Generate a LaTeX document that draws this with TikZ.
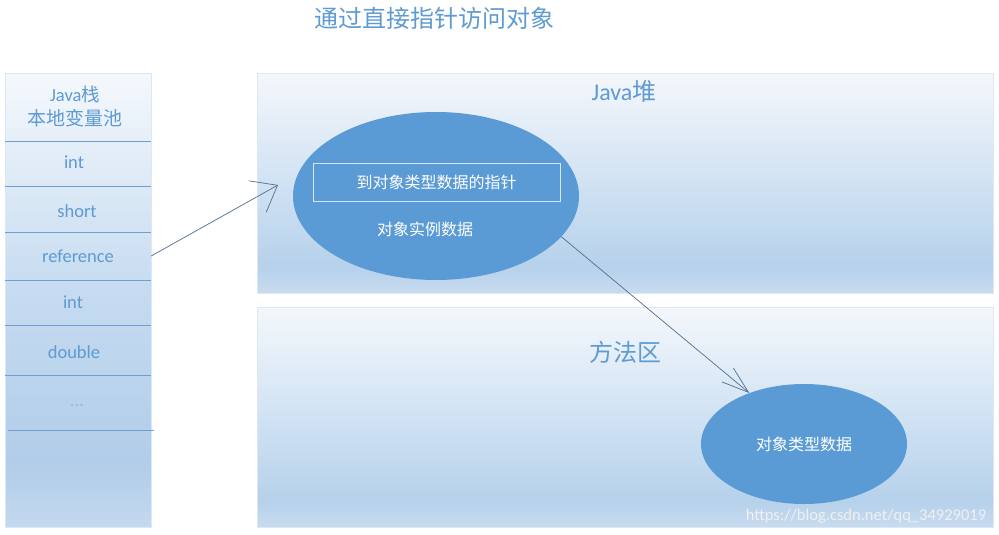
\documentclass[tikz,border=0pt]{standalone}
\usepackage{fontspec}
\setmainfont{Carlito}
\newfontfamily\cjk{Noto Sans CJK SC}
\usetikzlibrary{arrows.meta,shapes.geometric}
\definecolor{ell}{HTML}{5B9BD5}
\definecolor{lbl}{HTML}{5E9AD3}
\definecolor{divl}{HTML}{6E9FD2}
\definecolor{arr}{HTML}{4F6F8F}
\definecolor{edge}{HTML}{DDE8F3}
\definecolor{sZ}{HTML}{C3D9EF}
\definecolor{sA}{HTML}{B2CDE9}
\definecolor{sB}{HTML}{C4DAF0}
\definecolor{sC}{HTML}{F4F8FC}
\definecolor{hZ}{HTML}{C8DCF0}
\definecolor{hA}{HTML}{B6D1EB}
\definecolor{hB}{HTML}{D3E4F4}
\definecolor{hC}{HTML}{F4F7FB}
\pgfdeclareverticalshading{stackshade}{100bp}{color(0bp)=(sZ); color(25bp)=(sZ); color(32bp)=(sA); color(50bp)=(sB); color(75bp)=(sC); color(100bp)=(sC)}
\pgfdeclareverticalshading{heapshade}{100bp}{color(0bp)=(hZ); color(25bp)=(hZ); color(31bp)=(hA); color(52bp)=(hB); color(75bp)=(hC); color(100bp)=(hC)}
\begin{document}
\begin{tikzpicture}[x=1pt,y=-1pt,
  panel/.style={draw=edge, line width=0.8pt, inner sep=0pt, anchor=north west},
  rowtxt/.style={text=lbl, font=\fontsize{18.5}{22}\selectfont, inner sep=0pt},
  bigtxt/.style={text=lbl, font=\fontsize{24}{27}\selectfont, inner sep=0pt},
  whitetxt/.style={text=white, font=\cjk\fontsize{16}{19}\selectfont, inner sep=0pt},
  blob/.style={ellipse, fill=ell, inner sep=0pt},
  divider/.style={draw=divl, line width=0.9pt},
  conn/.style={draw=arr, line width=0.7pt}]
\useasboundingbox (0,0) rectangle (999,535);
\fill[white] (0,0) rectangle (999,535);
% title
\node[bigtxt] (title) at (434,18) {\cjk 通过直接指针访问对象};
% stack
\node[panel, shading=stackshade, minimum width=146pt, minimum height=454pt] (stack) at (5,73) {};
\node[rowtxt, align=center, font=\fontsize{18.5}{24}\selectfont] (head) at (75,107) {Java{\cjk 栈}\\{\cjk\fontsize{19}{24}\selectfont 本地变量池}};
\node[rowtxt] (r1) at (74,162) {int};
\node[rowtxt] (r2) at (77,211) {short};
\node[rowtxt, minimum width=146pt, minimum height=48pt] (ref) at (78,256) {reference};
\node[rowtxt] (r4) at (73,302) {int};
\node[rowtxt] (r5) at (74,352) {double};
\node[rowtxt, text=lbl!70] (r6) at (77,406) {...};
\draw[divider] (5,141) -- (151,141);
\draw[divider] (5,186) -- (151,186);
\draw[divider] (5,232) -- (151,232);
\draw[divider] (5,280) -- (151,280);
\draw[divider] (5,325) -- (151,325);
\draw[divider] (5,375) -- (151,375);
\draw[divider] (8,430) -- (154,430);
% heap
\node[panel, shading=heapshade, minimum width=736pt, minimum height=220pt] (heap) at (257,73) {};
\node[bigtxt] (heapl) at (624,91) {Java{\cjk 堆}};
% method area
\node[panel, shading=heapshade, minimum width=736pt, minimum height=220pt] (meth) at (257,307) {};
\node[bigtxt] (methl) at (625,352) {\cjk 方法区};
% object
\node[blob, minimum width=286pt, minimum height=168pt] (obj) at (436,196) {};
\node[whitetxt, draw=white!75!ell, line width=0.8pt, minimum width=247pt, minimum height=38pt] (ptr) at (436.5,182) {到对象类型数据的指针};
\node[whitetxt] (inst) at (425,229) {对象实例数据};
% class data
\node[blob, minimum width=206pt, minimum height=120pt] (cls) at (804,444) {};
\node[whitetxt] (clsl) at (804,444) {对象类型数据};
% connectors
\coordinate (tip1) at (278,185);
\draw[conn, -{Straight Barb[length=23pt,width=36pt,line width=0.7pt]}] (ref.east) -- (tip1);
\draw[conn, -{Straight Barb[length=27pt,width=18pt,line width=0.7pt]}] (obj.-18) -- (cls.137);
% watermark
\node[text=white!88!gray, font=\fontsize{16.5}{18}\selectfont, inner sep=0pt] (wm) at (866,516) {https://blog.csdn.net/qq\_34929019};
\end{tikzpicture}
\end{document}
